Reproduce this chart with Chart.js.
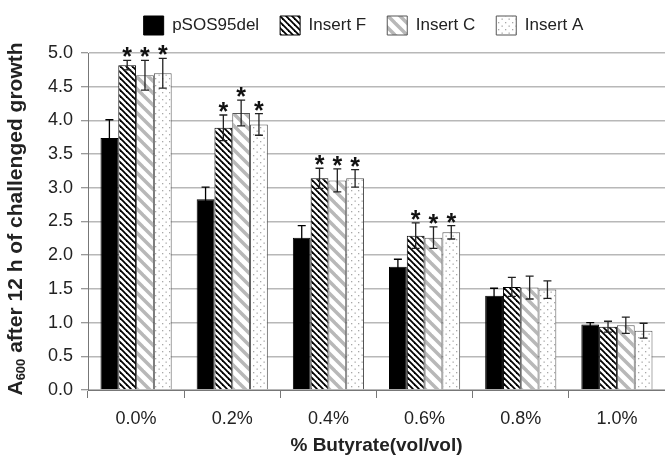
<!DOCTYPE html>
<html>
<head>
<meta charset="utf-8">
<script src="https://cdn.jsdelivr.net/npm/chart.js@4"></script>
<style>
  html, body { margin: 0; padding: 0; background: #fff; }
  #wrap { width: 665px; height: 457px; }
</style>
</head>
<body>
<div id="wrap"><canvas id="chart" width="665" height="457"></canvas></div>
<script>
// data
const labels = ["0.0%", "0.2%", "0.4%", "0.6%", "0.8%", "1.0%"];
const names = ["pSOS95del", "Insert F", "Insert C", "Insert A"];

const pSOS = [3.74, 2.83, 2.26, 1.83, 1.40, 0.97];
const pSOSErr = [0.27, 0.18, 0.18, 0.11, 0.11, 0.03];
const insF = [4.82, 3.89, 3.14, 2.29, 1.53, 0.94];
const insFErr = [0.07, 0.19, 0.15, 0.19, 0.14, 0.08];
const insC = [4.67, 4.11, 3.11, 2.26, 1.52, 0.96];
const insCErr = [0.22, 0.19, 0.17, 0.16, 0.17, 0.12];
const insA = [4.70, 3.94, 3.14, 2.34, 1.49, 0.88];
const insAErr = [0.22, 0.16, 0.13, 0.10, 0.13, 0.11];

// asterisks (significant vs pSOS95del)
const sigNone = [0, 0, 0, 0, 0, 0];
const sigIns = [1, 1, 1, 1, 0, 0];

const yTicks = [0, 0.5, 1, 1.5, 2, 2.5, 3, 3.5, 4, 4.5, 5];

const FONT = "'Liberation Sans', Arial, sans-serif";
const TXT = "#222";
const AXIS = "#777";

function stripes(size, width, color) {
  const c = document.createElement("canvas");
  c.width = c.height = size;
  const g = c.getContext("2d");
  g.fillStyle = "#fff";
  g.fillRect(0, 0, size, size);
  g.strokeStyle = color;
  g.lineWidth = width;
  for (let k = -1; k <= 1; k++) {
    g.beginPath();
    g.moveTo(-size, -size + k * size);
    g.lineTo(2 * size, 2 * size + k * size);
    g.stroke();
  }
  return g.createPattern(c, "repeat");
}

function dots(size, color) {
  const c = document.createElement("canvas");
  c.width = c.height = size;
  const g = c.getContext("2d");
  g.fillStyle = "#fff";
  g.fillRect(0, 0, size, size);
  g.fillStyle = color;
  g.fillRect(1, 1, 1.3, 1.3);
  g.fillRect(size / 2 + 1, size / 2 + 1, 1.3, 1.3);
  return g.createPattern(c, "repeat");
}

const fills = ["#000", stripes(6, 1.8, "#000"), stripes(12, 3.5, "#b8b8b8"), dots(7, "#a8a8a8")];
const borders = ["#000", "#000", "#555", "#555"];
const values = [pSOS, insF, insC, insA];
const errs = [pSOSErr, insFErr, insCErr, insAErr];
const sigs = [sigNone, sigIns, sigIns, sigIns];

const datasets = names.map((n, i) => ({
  label: n,
  data: values[i],
  err: errs[i],
  sig: sigs[i],
  backgroundColor: fills[i],
  borderColor: borders[i],
  borderWidth: 1,
  categoryPercentage: 0.74,
  barPercentage: 1
}));

// error bars + asterisks
const errorBars = {
  id: "errorBars",
  afterDatasetsDraw(chart) {
    const { ctx, scales: { y } } = chart;
    ctx.save();
    chart.data.datasets.forEach((ds, i) => {
      chart.getDatasetMeta(i).data.forEach((bar, j) => {
        const v = ds.data[j], e = ds.err[j];
        const top = y.getPixelForValue(v + e);
        const bot = y.getPixelForValue(v - e);
        const x = bar.x;
        ctx.strokeStyle = i === 0 ? "#000" : "#222";
        ctx.lineWidth = 1.3;
        ctx.beginPath();
        ctx.moveTo(x, top); ctx.lineTo(x, bot);
        ctx.moveTo(x - 4, top); ctx.lineTo(x + 4, top);
        ctx.moveTo(x - 4, bot); ctx.lineTo(x + 4, bot);
        ctx.stroke();
        if (ds.sig[j]) {
          ctx.fillStyle = "#111";
          ctx.font = "bold 25px " + FONT;
          ctx.textAlign = "center";
          ctx.textBaseline = "alphabetic";
          ctx.fillText("*", x, top + 5);
        }
      });
    });
    ctx.restore();
  }
};

// y title with subscript, nudge legend
const yTitle = {
  id: "yTitle",
  afterLayout(chart) {
    chart.legend.left += 31;
    chart.legend.right += 31;
    chart.legend.top -= 8;
    chart.legend.bottom -= 8;
  },
  afterDraw(chart) {
    const ctx = chart.ctx;
    const big = "bold 21px " + FONT, small = "bold 13px " + FONT;
    const a = "A", sub = "600", rest = " after 12 h of challenged growth";
    ctx.save();
    ctx.font = big;
    const wa = ctx.measureText(a).width, wr = ctx.measureText(rest).width;
    ctx.font = small;
    const ws = ctx.measureText(sub).width;
    const total = wa + ws + wr;
    ctx.translate(16, 219);
    ctx.rotate(-Math.PI / 2);
    ctx.fillStyle = TXT;
    ctx.textBaseline = "middle";
    ctx.textAlign = "left";
    let x = -total / 2;
    ctx.font = big; ctx.fillText(a, x, 0); x += wa;
    ctx.font = small; ctx.fillText(sub, x, 5); x += ws;
    ctx.font = big; ctx.fillText(rest, x, 0);
    ctx.restore();
  }
};

new Chart(document.getElementById("chart"), {
  type: "bar",
  data: { labels: labels, datasets: datasets },
  plugins: [errorBars, yTitle],
  options: {
    responsive: false,
    animation: false,
    devicePixelRatio: 1,
    layout: { padding: { top: 3, right: 0, bottom: 0, left: 0 } },
    plugins: {
      tooltip: { enabled: false },
      legend: {
        position: "top",
        labels: {
          boxWidth: 20,
          boxHeight: 19,
          padding: 21,
          color: TXT,
          font: { family: FONT, size: 17 }
        }
      }
    },
    scales: {
      x: {
        grid: { offset: true, drawOnChartArea: false, tickLength: 8, color: AXIS, lineWidth: 1 },
        border: { color: AXIS, width: 1 },
        ticks: { color: TXT, font: { family: FONT, size: 18 }, padding: 10 },
        title: {
          display: true,
          text: "% Butyrate(vol/vol)",
          color: TXT,
          font: { family: FONT, size: 19, weight: "bold", lineHeight: 1 },
          padding: { top: 0, bottom: 2 }
        },
        afterFit: s => { s.height = 67; }
      },
      y: {
        min: 0,
        max: 5,
        afterBuildTicks: s => { s.ticks = yTicks.map(v => ({ value: v })); },
        ticks: { color: TXT, font: { family: FONT, size: 18 }, padding: 8, callback: v => v.toFixed(1) },
        grid: { color: "#b8b8b8", lineWidth: 1.5, tickLength: 7, tickColor: AXIS, tickWidth: 1 },
        border: { color: AXIS, width: 1 },
        afterFit: s => { s.width = 88; }
      }
    }
  }
});
</script>
</body>
</html>
